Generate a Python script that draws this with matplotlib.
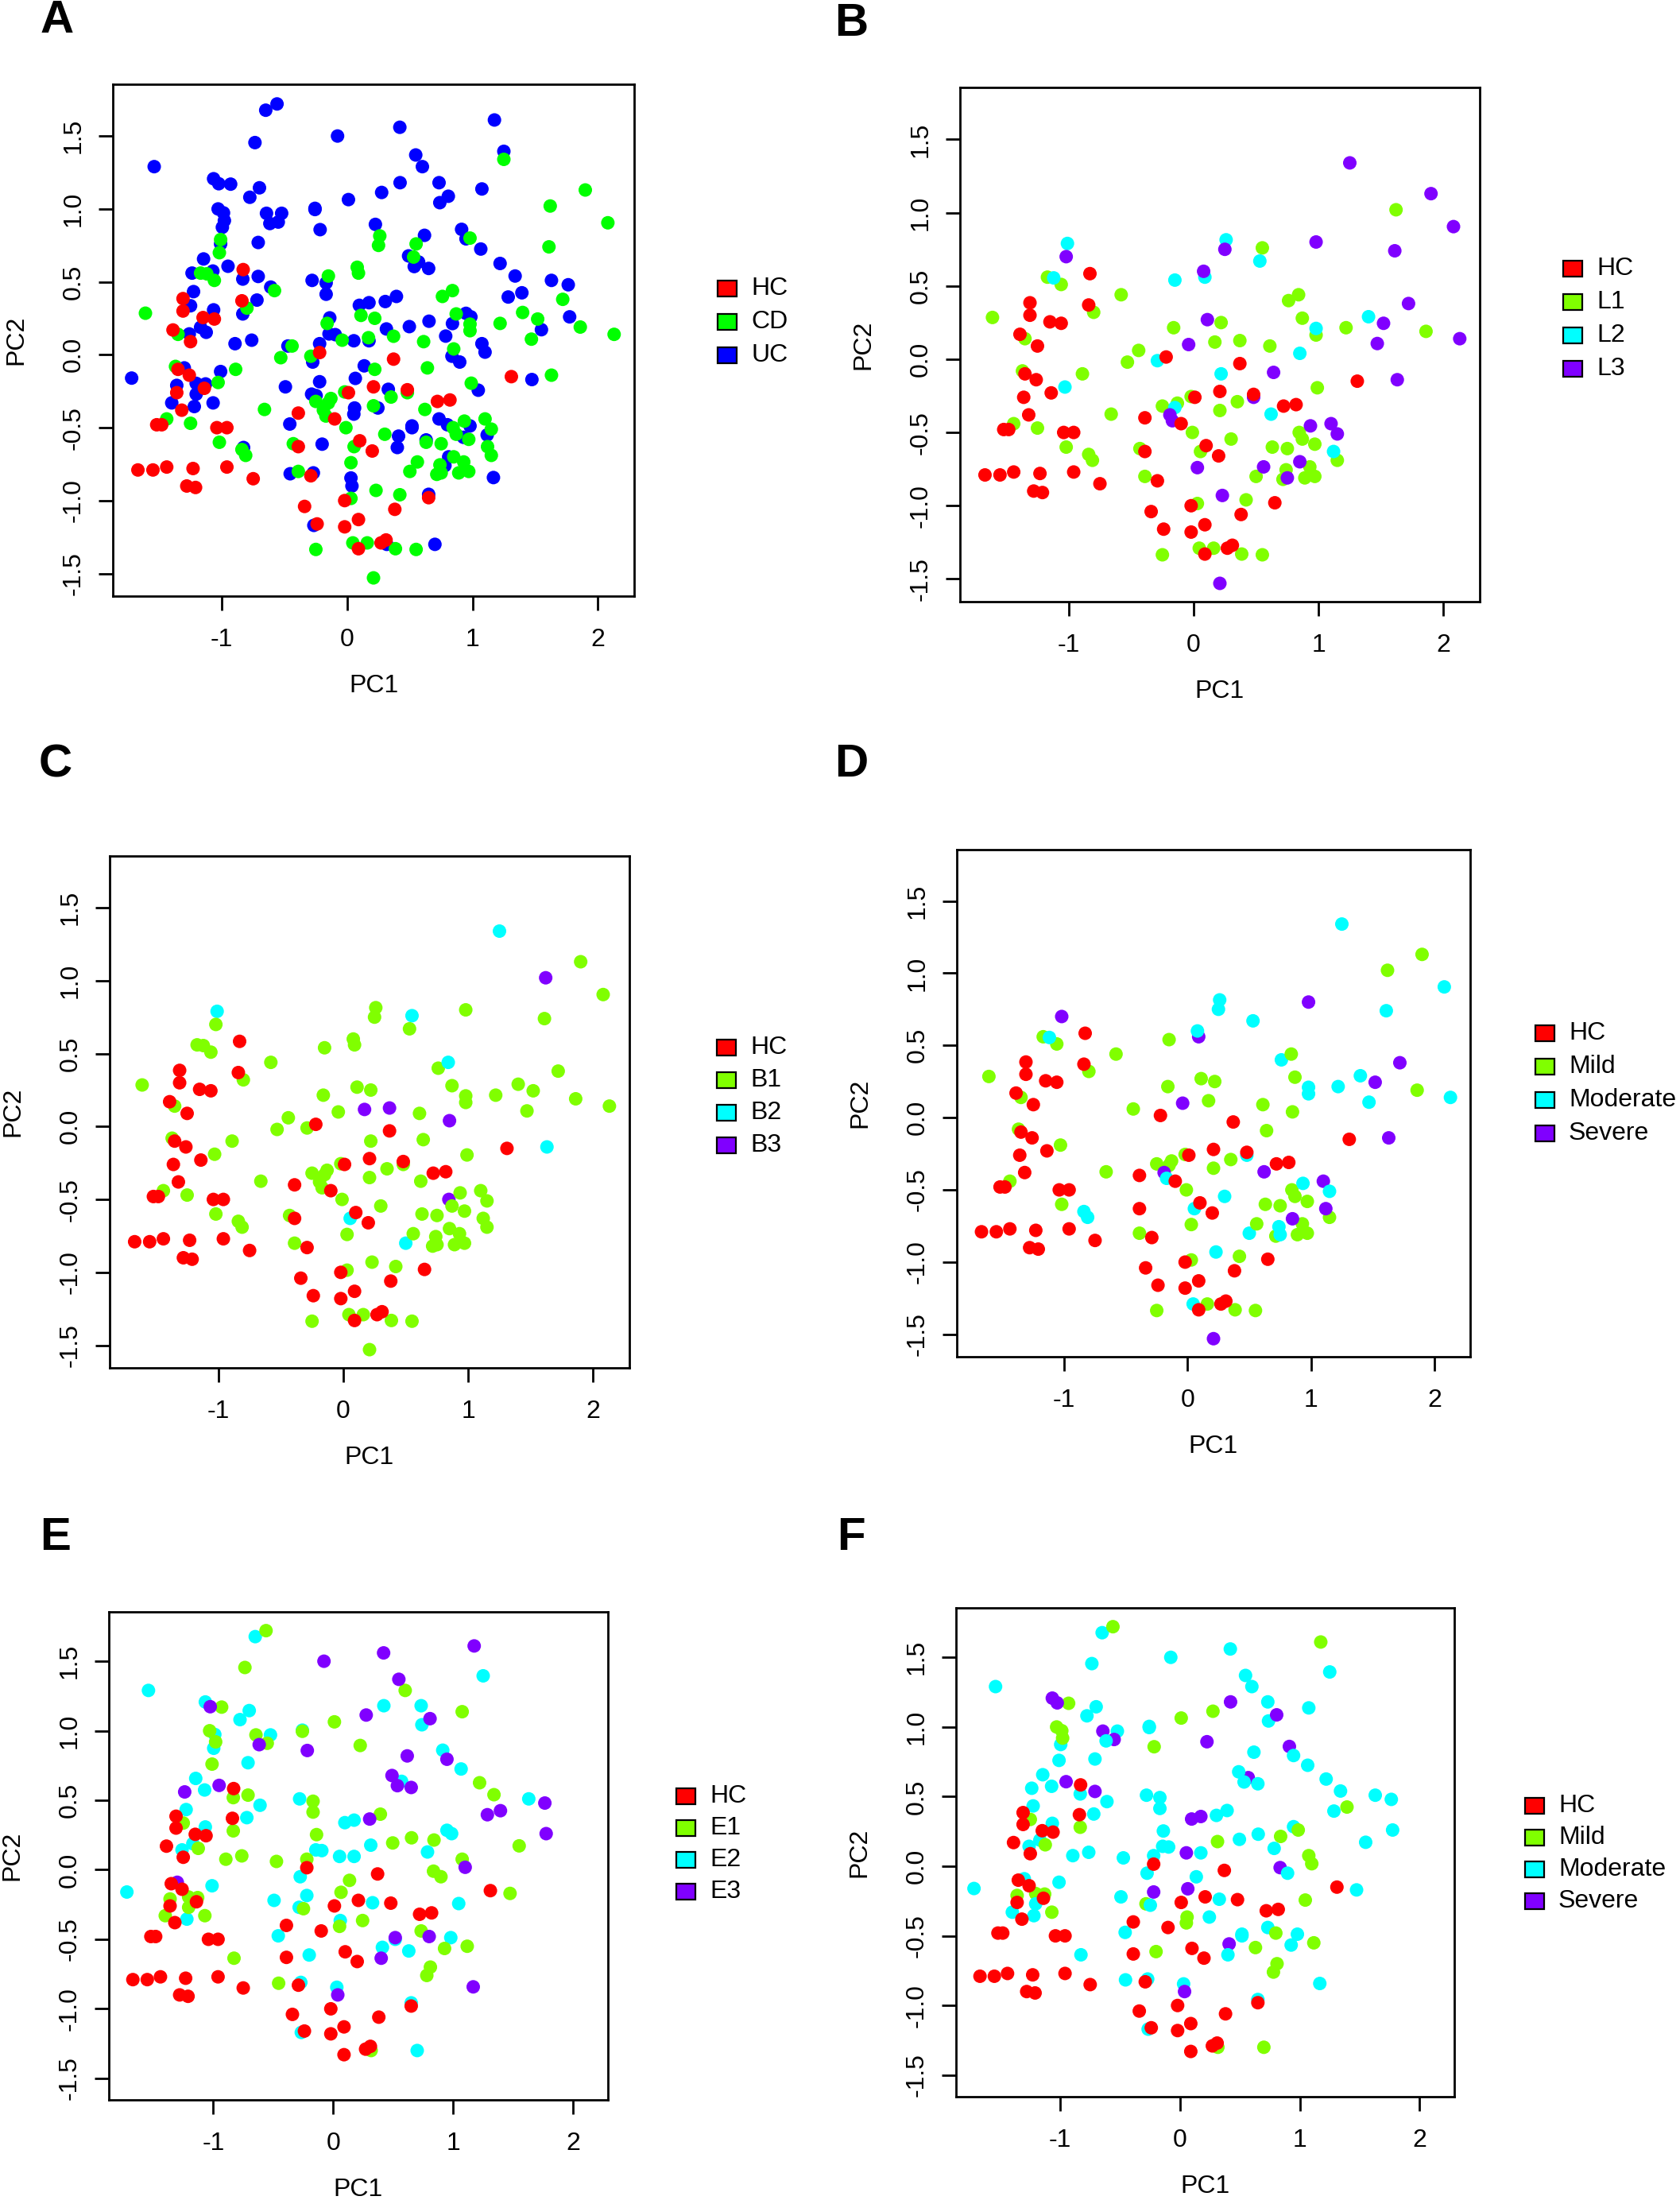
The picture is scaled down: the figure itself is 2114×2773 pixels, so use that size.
import matplotlib
matplotlib.use("Agg")
import matplotlib.pyplot as plt
from matplotlib.patches import Rectangle
from matplotlib.ticker import FormatStrFormatter
import numpy as np

plt.rcParams['font.family'] = ['Liberation Sans', 'DejaVu Sans']
plt.rcParams['axes.unicode_minus'] = False

W, H = 2114, 2773
DPI = 100

# ---- healthy controls ----
hc_pc1 = [-1.67, -1.55, -1.44, -1.52, -1.48, -1.39, -1.31, -1.31, -1.25, -1.35,
          -1.26, -1.36, -1.32, -1.15, -1.06, -1.14, -1.04, -0.96, -1.28, -1.21,
          -1.23, -0.96, -0.83, -0.84, -0.75, -0.39, -0.39, -0.29, -0.34, -0.24,
          -0.22, -0.10, 0.01, -0.02, -0.02, 0.10, 0.09, 0.09, 0.20, 0.21,
          0.27, 0.31, 0.37, 0.38, 0.48, 0.65, 0.72, 0.82, 1.31]
hc_pc2 = [-0.79, -0.79, -0.77, -0.48, -0.48, 0.17, 0.385, 0.30, 0.09, -0.10,
          -0.14, -0.26, -0.38, 0.255, 0.245, -0.23, -0.50, -0.50, -0.90, -0.91,
          -0.78, -0.77, 0.584, 0.37, -0.85, -0.40, -0.63, -0.83, -1.04, -1.16,
          0.015, -0.44, -0.26, -1.00, -1.18, -0.59, -1.13, -1.33, -0.66, -0.22,
          -1.29, -1.27, -0.03, -1.06, -0.24, -0.98, -0.32, -0.31, -0.15]

# ---- Crohn's disease: location (L), behaviour (B), severity (0 = not scored) ----
cd_pc1 = [-1.61, -1.35, -1.37, -1.44, -1.25, -1.17, -1.06, -0.80, -1.02, -0.84,
          -0.81, -0.66, -0.58, -0.53, -0.44, -0.89, -0.43, -0.39, -0.25, -0.13,
          -0.16, -0.25, -0.02, -0.01, 0.055, 0.03, 0.045, 0.16, 0.17, 0.22,
          0.21, 0.30, 0.35, 0.37, 0.385, 0.42, 0.50, 0.55, 0.55, 0.61,
          0.63, 0.715, 0.74, 0.75, 0.76, 0.84, 0.845, 0.87, 0.87, 0.89,
          0.93, 0.97, 0.97, 0.98, 0.99, 1.15, 1.22, 1.62, 1.86,
          -1.01, -1.12, -1.03, -0.29, -0.15, -0.15, 0.09, 0.26, 0.22, 0.53,
          0.62, 0.85, 0.98, 1.12, 1.40,
          -1.02, -0.19, -0.17, -0.04, 0.08, 0.11, 0.03, 0.25, 0.23, 0.21,
          0.48, 0.56, 0.64, 0.75, 0.85, 0.935, 0.98, 1.10, 1.15, 1.25,
          1.47, 1.52, 1.61, 1.63, 1.72, 1.90, 2.08, 2.13]
cd_pc2 = [0.285, 0.14, -0.08, -0.44, -0.47, 0.56, 0.51, 0.32, -0.60, -0.65,
          -0.69, -0.375, 0.44, -0.02, 0.06, -0.10, -0.61, -0.80, -0.32, -0.30,
          0.215, -1.335, -0.255, -0.50, -0.63, -0.985, -1.29, -1.29, 0.117, 0.25,
          -0.35, -0.545, -0.29, 0.127, -1.33, -0.96, -0.80, 0.76, -1.335, 0.09,
          -0.60, -0.82, -0.755, -0.61, 0.40, 0.44, -0.50, -0.545, 0.28, -0.81,
          -0.735, -0.80, -0.58, 0.165, -0.195, -0.69, 0.215, 1.02, 0.19,
          0.79, 0.555, -0.19, -0.01, 0.54, -0.33, 0.56, 0.815, -0.10, 0.67,
          -0.375, 0.04, 0.21, -0.63, 0.29,
          0.70, -0.38, -0.42, 0.10, 0.60, 0.27, -0.74, 0.75, -0.93, -1.53,
          -0.26, -0.735, -0.09, -0.81, -0.70, -0.455, 0.80, -0.44, -0.51, 1.34,
          0.107, 0.245, 0.74, -0.14, 0.38, 1.13, 0.905, 0.14]
cd_location = [1] * 59 + [2] * 15 + [3] * 28
cd_behaviour = [1, 1, 1, 1, 1, 1, 1, 1, 1, 1,
                1, 1, 1, 1, 1, 1, 1, 1, 1, 1,
                1, 1, 1, 1, 2, 1, 1, 1, 3, 1,
                1, 1, 1, 3, 1, 1, 2, 2, 1, 1,
                1, 1, 1, 1, 1, 2, 3, 1, 1, 1,
                1, 1, 1, 1, 1, 1, 1, 3, 1,
                2, 1, 1, 1, 1, 1, 1, 1, 1, 1,
                1, 3, 1, 1, 1,
                1, 1, 1, 1, 1, 1, 1, 1, 1, 1,
                1, 1, 1, 1, 1, 1, 1, 1, 1, 2,
                1, 1, 1, 2, 1, 1, 1, 1]
cd_severity = [1, 1, 1, 1, 0, 1, 1, 1, 1, 2,
               2, 1, 1, 0, 1, 0, 0, 1, 1, 1,
               1, 1, 1, 1, 2, 1, 2, 1, 1, 1,
               1, 2, 1, 0, 1, 1, 2, 0, 1, 1,
               1, 1, 2, 1, 2, 1, 1, 1, 1, 1,
               1, 1, 1, 2, 0, 1, 2, 1, 1,
               0, 2, 1, 0, 1, 1, 3, 2, 0, 2,
               3, 1, 2, 3, 2,
               3, 3, 2, 3, 2, 1, 1, 2, 2, 3,
               2, 1, 1, 2, 3, 2, 3, 3, 2, 2,
               2, 3, 2, 3, 3, 1, 2, 2]

# ---- ulcerative colitis: extent (E), severity ----
uc_pc1 = [-1.54, -1.72, -1.066, -0.777, -0.70, -0.987, -0.996, -0.71, -0.65, -0.523,
          -0.257, -1.146, -1.072, -1.226, -1.066, -1.17, -1.26, -1.01, -1.22, -0.72,
          -0.61, -0.28, 0.097, 0.174, -0.145, -0.095, 0.053, 0.174, 0.313, -0.275,
          -0.22, -0.284, -0.493, -0.458, 0.059, -0.20, 0.328, 0.41, 0.517, 0.63,
          0.786, 0.948, 0.987, 1.046, 0.98, 0.913, 1.066, 0.57, 0.422, 0.733,
          0.739, 1.25, 1.63, 0.03, -0.27, -0.266, 0.65, 0.70,
          -0.56, -0.736, -0.93, -1.03, -0.98, -1.01, -0.644, -0.55, -0.257, 0.01,
          0.225, 0.60, 1.075, -0.833, -0.71, -0.833, -0.762, -0.895, -1.25, -1.125,
          -0.168, -0.168, -0.139, -0.473, -0.22, 0.136, 0.065, 0.053, 0.245, -0.248,
          0.393, 0.496, 0.653, 0.84, 1.075, 0.836, 0.898, 1.22, 1.34, 1.55,
          1.474, 0.733, 0.928, 1.117, 0.81, 0.78, -0.827, -0.455, 0.316, -1.36,
          -1.40, -1.205, -1.205, -1.07, -1.13,
          -0.077, 0.42, 1.175, 0.547, 0.275, 0.807, -1.025, -0.617, -0.216, 0.617,
          0.948, 0.49, 0.535, 0.65, -0.951, -1.238, 0.304, 1.285, 1.394, 1.764,
          1.775, 1.10, -1.30, 0.517, 0.80, 0.40, 1.167, 0.038]
uc_pc2 = [1.29, -0.16, 1.207, 1.08, 1.145, 0.973, 0.874, 0.77, 1.677, 0.97,
          1.004, 0.657, 0.574, 0.433, 0.308, 0.188, 0.143, -0.115, -0.355, 0.375,
          0.464, 0.51, 0.339, 0.357, 0.143, 0.138, 0.096, 0.096, 0.177, -0.05,
          -0.185, -0.27, -0.22, -0.475, -0.365, -0.613, -0.237, -0.558, -0.50, -0.584,
          0.128, 0.284, 0.26, -0.243, -0.488, 0.86, 0.725, 0.636, 1.18, 1.18,
          1.043, 1.395, 0.51, -0.845, -0.81, -1.17, -0.957, -1.30,
          1.72, 1.455, 1.17, 1.0, 0.92, 0.76, 0.97, 0.91, 0.996, 1.064,
          0.894, 1.29, 1.137, 0.519, 0.537, 0.28, 0.10, 0.076, 0.336, 0.154,
          0.493, 0.415, 0.253, 0.06, 0.076, -0.076, -0.162, -0.407, -0.365, -0.28,
          0.40, 0.193, 0.23, 0.214, 0.076, -0.01, -0.05, 0.626, 0.54, 0.172,
          -0.17, -0.44, -0.566, -0.55, -0.70, -0.76, -0.636, -0.816, -1.30, -0.21,
          -0.33, -0.196, -0.27, -0.33, -0.20,
          1.50, 1.56, 1.61, 1.37, 1.113, 1.087, 1.173, 0.90, 0.858, 0.819,
          0.795, 0.678, 0.605, 0.592, 0.607, 0.56, 0.365, 0.396, 0.425, 0.48,
          0.26, 0.018, -0.09, -0.488, -0.48, -0.636, -0.842, -0.90]
uc_extent = [2] * 58 + [1] * 55 + [3] * 28
uc_severity = [2, 2, 3, 2, 2, 1, 2, 2, 2, 2,
               2, 2, 2, 2, 2, 2, 2, 2, 2, 2,
               2, 2, 3, 3, 2, 2, 3, 2, 1, 2,
               3, 1, 2, 2, 1, 1, 2, 3, 2, 1,
               2, 2, 1, 1, 2, 3, 2, 3, 3, 2,
               2, 2, 2, 2, 2, 2, 2, 1,
               1, 2, 1, 1, 1, 2, 3, 3, 2, 1,
               3, 2, 2, 2, 3, 1, 2, 2, 1, 1,
               2, 2, 2, 2, 2, 2, 3, 1, 2, 2,
               2, 2, 2, 1, 1, 3, 2, 2, 2, 2,
               2, 2, 2, 1, 1, 1, 2, 2, 1, 1,
               2, 1, 2, 1, 1,
               2, 2, 1, 2, 1, 3, 3, 2, 1, 2,
               2, 2, 2, 2, 3, 2, 2, 2, 1, 2,
               2, 1, 2, 2, 1, 2, 2, 3]

rainbow4 = ['#FF0000', '#80FF00', '#00FFFF', '#8000FF']
rgb3 = ['#FF0000', '#00FF00', '#0000FF']

legend_a = ['HC', 'CD', 'UC']
legend_b = ['HC', 'L1', 'L2', 'L3']
legend_c = ['HC', 'B1', 'B2', 'B3']
legend_d = ['HC', 'Mild', 'Moderate', 'Severe']
legend_e = ['HC', 'E1', 'E2', 'E3']
legend_f = ['HC', 'Mild', 'Moderate', 'Severe']

hc_x, hc_y = np.array(hc_pc1), np.array(hc_pc2)
cd_x, cd_y = np.array(cd_pc1), np.array(cd_pc2)
uc_x, uc_y = np.array(uc_pc1), np.array(uc_pc2)

fig = plt.figure(figsize=(W / DPI, H / DPI), dpi=DPI)
FS = 23


def px_axes(l, t, r, b):
    return fig.add_axes([l / W, 1 - b / H, (r - l) / W, (b - t) / H])


def fig_text(x, y, s, **kw):
    fig.text(x / W, 1 - y / H, s, **kw)


def draw_panel(box, layers, letter, letter_xy, labels, colors, leg_x, leg_y, leg_step):
    ax = px_axes(*box)
    for x, y, c in layers:
        ax.scatter(x, y, s=150, c=c, edgecolors='none', zorder=2)
    ax.set_xlim(-1.87, 2.29)
    ax.set_ylim(-1.655, 1.855)
    ax.set_xticks([-1, 0, 1, 2])
    ax.set_yticks([-1.5, -1.0, -0.5, 0.0, 0.5, 1.0, 1.5])
    ax.yaxis.set_major_formatter(FormatStrFormatter('%.1f'))
    ax.tick_params(length=13, width=2, labelsize=FS)
    ax.tick_params(axis='x', pad=16)
    ax.tick_params(axis='y', pad=12)
    for lab in ax.get_yticklabels():
        lab.set_rotation(90)
        lab.set_va('center')
    for sp in ax.spines.values():
        sp.set_linewidth(2)
    ax.set_xlabel('PC1', fontsize=FS, labelpad=20)
    ax.set_ylabel('PC2', fontsize=FS, labelpad=30)

    fig_text(letter_xy[0], letter_xy[1], letter, fontsize=42, fontweight='bold',
             ha='center', va='center')
    for i, (lab, col) in enumerate(zip(labels, colors)):
        yc = leg_y + i * leg_step
        fig.patches.append(Rectangle(((leg_x - 12) / W, 1 - (yc + 10) / H), 24 / W, 20 / H,
                                     transform=fig.transFigure, facecolor=col,
                                     edgecolor='black', linewidth=1.6))
        fig_text(leg_x + 30, yc, lab, fontsize=FS, ha='left', va='center')
    return ax


def by_level(codes, palette):
    return [palette[k] for k in codes]


# A: all samples by diagnosis
draw_panel((142, 106, 798, 750),
           [(uc_x, uc_y, rgb3[2]), (cd_x, cd_y, rgb3[1]), (hc_x, hc_y, rgb3[0])],
           'A', (72, 26), legend_a, rgb3, 915, 363, 42)

# B: CD location
draw_panel((1208, 110, 1862, 757),
           [(cd_x, cd_y, by_level(cd_location, rainbow4)), (hc_x, hc_y, rainbow4[0])],
           'B', (1071, 30), legend_b, rainbow4, 1979, 338, 42)

# C: CD behaviour
draw_panel((138, 1077, 792, 1721),
           [(cd_x, cd_y, by_level(cd_behaviour, rainbow4)), (hc_x, hc_y, rainbow4[0])],
           'C', (70, 962), legend_c, rainbow4, 914, 1318, 41)

# D: CD severity (unscored samples left out)
sev = np.array(cd_severity)
keep = sev > 0
draw_panel((1204, 1069, 1850, 1707),
           [(cd_x[keep], cd_y[keep], by_level(sev[keep], rainbow4)), (hc_x, hc_y, rainbow4[0])],
           'D', (1071, 962), legend_d, rainbow4, 1944, 1300, 42)

# E: UC extent
draw_panel((137, 2028, 765, 2642),
           [(uc_x, uc_y, by_level(uc_extent, rainbow4)), (hc_x, hc_y, rainbow4[0])],
           'E', (70, 1935), legend_e, rainbow4, 863, 2260, 40)

# F: UC severity
draw_panel((1203, 2023, 1830, 2638),
           [(uc_x, uc_y, by_level(uc_severity, rainbow4)), (hc_x, hc_y, rainbow4[0])],
           'F', (1071, 1935), legend_f, rainbow4, 1931, 2272, 40)

fig.savefig('out.png', dpi=DPI, facecolor='white')
